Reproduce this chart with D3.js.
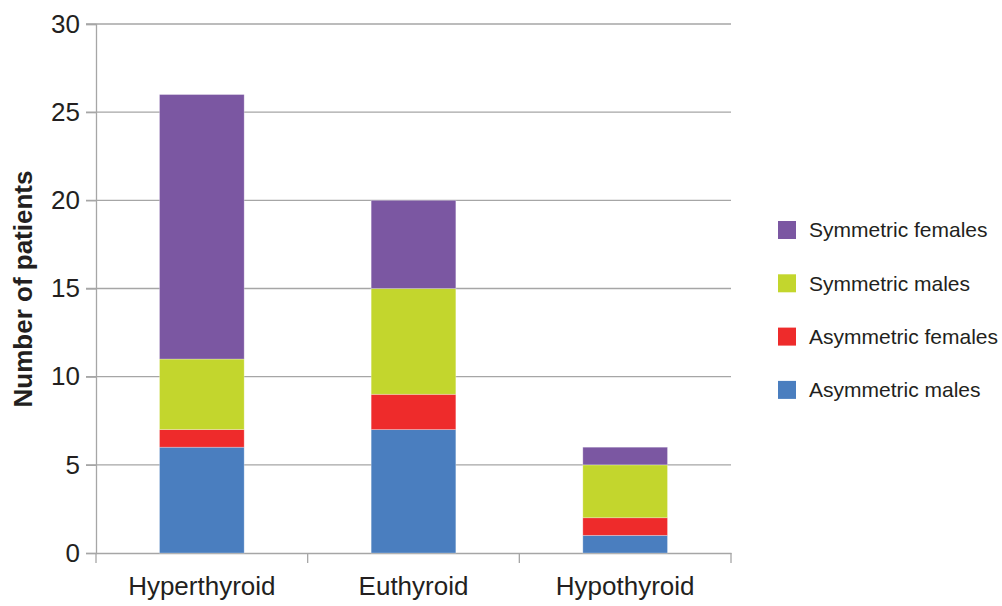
<!DOCTYPE html>
<html><head><meta charset="utf-8">
<script src="https://cdn.jsdelivr.net/npm/d3@7"></script>
<style>body{margin:0;background:#fff;}svg{display:block;font-family:"Liberation Sans",Arial,sans-serif;}</style>
</head><body>
<svg id="c" width="1002" height="606"></svg>
<script>
const categories = ["Hyperthyroid", "Euthyroid", "Hypothyroid"];
const seriesNames = ["Asymmetric males", "Asymmetric females", "Symmetric males", "Symmetric females"];
const asymMales = [6, 7, 1];
const asymFemales = [1, 2, 1];
const symMales = [4, 6, 3];
const symFemales = [15, 5, 1];
const colors = ["#4a7ebf", "#ee2b2b", "#c3d62d", "#7b57a2"];
const yTicks = [0, 5, 10, 15, 20, 25, 30];

const seriesVals = [asymMales, asymFemales, symMales, symFemales];
const table = categories.map((c, i) => {
  const o = {cat: c};
  seriesNames.forEach((s, j) => o[s] = seriesVals[j][i]);
  return o;
});
const stacked = d3.stack().keys(seriesNames)(table);

const svg = d3.select("#c");
const L = 96, R = 731, T = 24, B = 553;
const x = d3.scaleBand().domain(categories).range([L, R]).padding(0);
const y = d3.scaleLinear().domain([0, 30]).range([B, T]);
const grid = "#a6a6a6";
const ff = "Liberation Sans, Arial, sans-serif";

svg.append("g").selectAll("line").data(yTicks.filter(d => d > 0)).join("line")
  .attr("x1", L - 10).attr("x2", R).attr("y1", d => y(d)).attr("y2", d => y(d))
  .attr("stroke", grid).attr("stroke-width", 1.3);

const ya = svg.append("g").attr("transform", `translate(${L},0)`)
  .call(d3.axisLeft(y).tickValues(yTicks).tickSize(10).tickPadding(6));
ya.select(".domain").attr("stroke", grid).attr("stroke-width", 1.3);
ya.selectAll(".tick line").attr("stroke", grid).attr("stroke-width", 1.3);
ya.selectAll(".tick text").attr("font-size", 26).attr("fill", "#231f20").attr("font-family", ff);

const xa = svg.append("g").attr("transform", `translate(0,${B})`)
  .call(d3.axisBottom(x).tickSize(0).tickPadding(24));
xa.select(".domain").attr("stroke", grid).attr("stroke-width", 1.3);
xa.selectAll(".tick text").attr("font-size", 26).attr("fill", "#231f20").attr("font-family", ff);
const bounds = categories.map(c => x(c)).concat([R]);
svg.append("g").selectAll("line").data(bounds).join("line")
  .attr("x1", d => d).attr("x2", d => d).attr("y1", B).attr("y2", B + 10)
  .attr("stroke", grid).attr("stroke-width", 1.3);

const bw = x.bandwidth() * 0.4;
svg.append("g").selectAll("g").data(stacked).join("g")
  .attr("fill", (d, i) => colors[i])
  .selectAll("rect").data(d => d).join("rect")
  .attr("x", d => x(d.data.cat) + (x.bandwidth() - bw) / 2)
  .attr("width", bw)
  .attr("y", d => y(d[1]))
  .attr("height", d => y(d[0]) - y(d[1]))
  .attr("stroke", "rgba(255,255,255,0.35)").attr("stroke-width", 0.8);

svg.append("text").attr("transform", "translate(32,289) rotate(-90)")
  .attr("text-anchor", "middle").attr("font-size", 26).attr("font-weight", "bold")
  .attr("fill", "#231f20").text("Number of patients");

const legOrder = seriesNames.map((s, i) => ({s, c: colors[i]})).reverse();
const lg = svg.append("g").selectAll("g").data(legOrder).join("g")
  .attr("transform", (d, i) => `translate(778,${230 + i * 53.3})`);
lg.append("rect").attr("x", 0).attr("y", -9).attr("width", 18).attr("height", 18).attr("fill", d => d.c);
lg.append("text").attr("x", 31).attr("y", 0).attr("dy", "0.35em").attr("font-size", 21)
  .attr("fill", "#231f20").text(d => d.s);
</script>
</body></html>
